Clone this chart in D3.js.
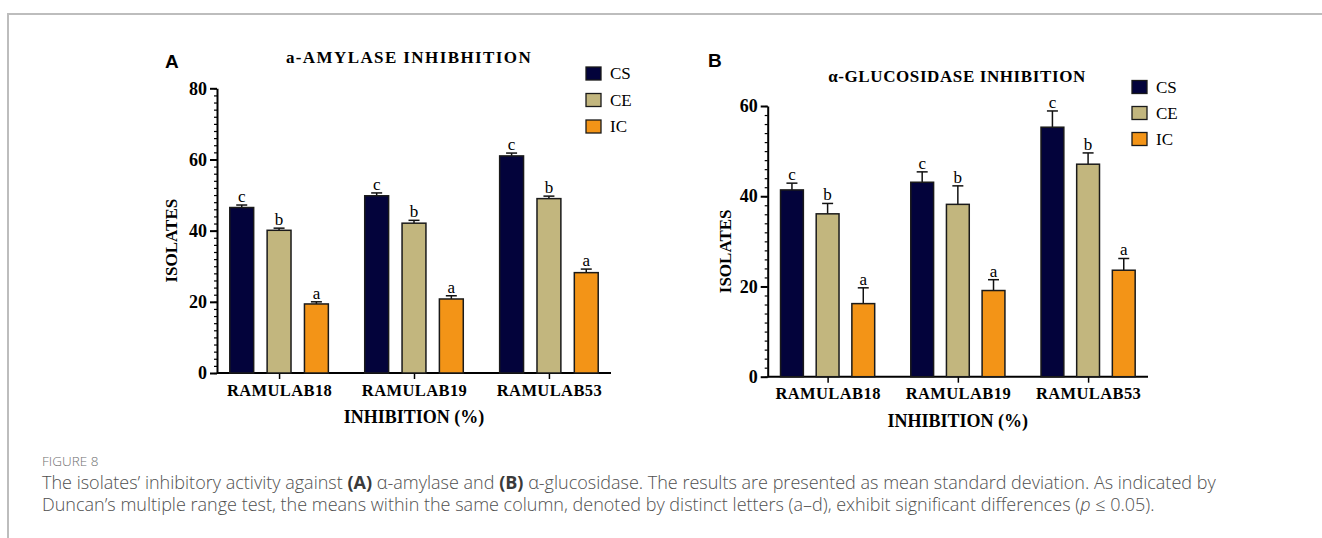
<!DOCTYPE html>
<html>
<head>
<meta charset="utf-8">
<script src="https://cdn.jsdelivr.net/npm/d3@7"></script>
<style>
  body { margin: 0; background: #fff; }
  svg { display: block; }
</style>
</head>
<body>
<svg id="fig" width="1322" height="538"></svg>
<script>
// ---- data ----
const isolates = ["RAMULAB18", "RAMULAB19", "RAMULAB53"];
const treatments = ["CS", "CE", "IC"];
const treatmentColors = ["#03033b", "#c2b67e", "#f39417"];
const sigLetters = ["c", "b", "a"];

// per isolate: [CS, CE, IC]
const amylaseMean = [[46.5, 40.1, 19.4], [49.8, 42.1, 20.8], [61.0, 49.0, 28.2]];
const amylaseSD = [[0.7, 0.6, 0.6], [0.8, 0.8, 0.9], [0.8, 0.7, 1.0]];
const amylaseTicks = [0, 20, 40, 60, 80];

const glucosidaseMean = [[41.4, 36.1, 16.2], [43.1, 38.2, 19.1], [55.3, 47.1, 23.6]];
const glucosidaseSD = [[1.5, 2.3, 3.5], [2.3, 4.1, 2.4], [3.6, 2.5, 2.6]];
const glucosidaseTicks = [0, 20, 40, 60];

const serif = "'Liberation Serif', 'Times New Roman', serif";
const svg = d3.select("#fig");

// figure frame (top + left rule)
svg.append("path")
  .attr("d", "M8,538V14H1322")
  .attr("fill", "none")
  .attr("stroke", "#bdbdbd")
  .attr("stroke-width", 2);

function drawPanel(p) {
  const g = svg.append("g");

  const y = d3.scaleLinear().domain([0, p.max]).range([p.bottom, p.top]);
  const x = d3.scalePoint().domain(isolates).range([p.left, p.right]).padding(0.46);
  const inner = d3.scaleBand().domain(treatments)
    .range([-p.half, p.half]).paddingInner(p.gap).paddingOuter(p.gap / 2);

  // minor ticks every 2 units
  g.append("g")
    .attr("transform", `translate(${p.left},0)`)
    .call(d3.axisLeft(y).tickValues(d3.range(0, p.max + 1, 2)).tickSize(3).tickFormat(""))
    .call(a => a.select(".domain").remove())
    .selectAll("line").attr("stroke-width", 1.2);

  // y axis
  const ya = g.append("g")
    .attr("transform", `translate(${p.left},0)`)
    .call(d3.axisLeft(y).tickValues(p.ticks).tickSize(7).tickSizeOuter(0).tickPadding(3));
  ya.select(".domain").attr("stroke-width", 2);
  ya.selectAll("line").attr("stroke-width", 2);
  ya.selectAll("text")
    .attr("font-family", serif).attr("font-weight", "bold").attr("font-size", 18);

  // x axis
  const xa = g.append("g")
    .attr("transform", `translate(0,${p.bottom})`)
    .call(d3.axisBottom(x).tickSize(6).tickSizeOuter(0).tickPadding(5));
  xa.select(".domain").attr("stroke-width", 2).attr("d", `M${p.left},0H${p.right}`);
  xa.selectAll("line").attr("stroke-width", 1.5);
  xa.selectAll("text")
    .attr("font-family", serif).attr("font-weight", "bold").attr("font-size", 16.5)
    .attr("letter-spacing", 0.4);

  // bars, error bars and letters
  const rows = [];
  isolates.forEach((iso, i) => treatments.forEach((t, j) => {
    rows.push({ iso, t, j, mean: p.means[i][j], sd: p.sds[i][j] });
  }));
  const cx = d => x(d.iso) + inner(d.t) + inner.bandwidth() / 2;

  g.selectAll("line.err").data(rows).join("line")
    .attr("x1", cx).attr("x2", cx)
    .attr("y1", d => y(d.mean)).attr("y2", d => y(d.mean + d.sd))
    .attr("stroke", "#111").attr("stroke-width", 1.5);
  g.selectAll("line.cap").data(rows).join("line")
    .attr("x1", d => cx(d) - 5.5).attr("x2", d => cx(d) + 5.5)
    .attr("y1", d => y(d.mean + d.sd)).attr("y2", d => y(d.mean + d.sd))
    .attr("stroke", "#111").attr("stroke-width", 1.5);

  g.selectAll("rect.bar").data(rows).join("rect")
    .attr("x", d => x(d.iso) + inner(d.t))
    .attr("y", d => y(d.mean))
    .attr("width", inner.bandwidth())
    .attr("height", d => y(0) - y(d.mean))
    .attr("fill", d => treatmentColors[d.j])
    .attr("stroke", "#1a1a1a").attr("stroke-width", 1.5);

  g.selectAll("text.sig").data(rows).join("text")
    .attr("x", cx)
    .attr("y", d => y(d.mean + d.sd) - 3)
    .attr("text-anchor", "middle")
    .attr("font-family", serif).attr("font-size", 17)
    .text(d => sigLetters[d.j]);

  // titles
  g.append("text")
    .attr("x", p.titleX).attr("y", p.titleY)
    .attr("text-anchor", "middle")
    .attr("font-family", serif).attr("font-weight", "bold").attr("font-size", 17)
    .attr("letter-spacing", p.titleSpacing)
    .text(p.title);
  g.append("text")
    .attr("x", (x(isolates[0]) + x(isolates[2])) / 2).attr("y", p.bottom + 50)
    .attr("text-anchor", "middle")
    .attr("font-family", serif).attr("font-weight", "bold").attr("font-size", 18)
    .text("INHIBITION (%)");
  g.append("text")
    .attr("transform", `translate(${p.ylabelX},${(p.top + p.bottom) / 2 + 10}) rotate(-90)`)
    .attr("text-anchor", "middle")
    .attr("font-family", serif).attr("font-weight", "bold").attr("font-size", 17)
    .text("ISOLATES");
  g.append("text")
    .attr("x", p.tagX).attr("y", p.tagY)
    .attr("font-family", "'Liberation Sans', Arial, sans-serif")
    .attr("font-weight", "bold").attr("font-size", 19)
    .text(p.tag);

  // legend
  const lg = g.append("g").attr("transform", `translate(${p.legX},${p.legY})`);
  treatments.forEach((t, j) => {
    lg.append("rect")
      .attr("x", 0).attr("y", j * p.legStep)
      .attr("width", 15).attr("height", 13)
      .attr("fill", treatmentColors[j])
      .attr("stroke", "#1a1a1a").attr("stroke-width", 1.3);
    lg.append("text")
      .attr("x", 24).attr("y", j * p.legStep + 12)
      .attr("font-family", serif).attr("font-size", 17)
      .text(t);
  });
}

drawPanel({
  left: 217, right: 611, top: 88.3, bottom: 373, max: 80, ticks: amylaseTicks,
  half: 56, gap: 0.36, means: amylaseMean, sds: amylaseSD,
  title: "a-AMYLASE INHIBHITION", titleX: 409, titleY: 63, titleSpacing: 1.4,
  tag: "A", tagX: 165, tagY: 68,
  ylabelX: 177, legX: 586, legY: 67, legStep: 26.5
});
drawPanel({
  left: 767.7, right: 1148, top: 106, bottom: 376.7, max: 60, ticks: glucosidaseTicks,
  half: 53.5, gap: 0.36, means: glucosidaseMean, sds: glucosidaseSD,
  title: "α-GLUCOSIDASE INHIBITION", titleX: 957, titleY: 81.5, titleSpacing: 0.6,
  tag: "B", tagX: 708, tagY: 67,
  ylabelX: 731, legX: 1132, legY: 80.5, legStep: 26
});

// caption
const cap = svg.append("g")
  .attr("font-family", "'Open Sans', 'Noto Sans', sans-serif")
  .attr("font-weight", 300)
  .attr("fill", "#505050");
cap.append("text").attr("x", 42).attr("y", 466)
  .attr("font-size", 13.5).attr("fill", "#707070").text("FIGURE 8");
const l1 = cap.append("text").attr("x", 42).attr("y", 489).attr("font-size", 16);
l1.append("tspan").text("The isolates’ inhibitory activity against ");
l1.append("tspan").attr("font-weight", "bold").attr("fill", "#3a3a3a").text("(A)");
l1.append("tspan").text(" α-amylase and ");
l1.append("tspan").attr("font-weight", "bold").attr("fill", "#3a3a3a").text("(B)");
l1.append("tspan").text(" α-glucosidase. The results are presented as mean standard deviation. As indicated by");
const l2 = cap.append("text").attr("x", 42).attr("y", 511).attr("font-size", 16);
l2.append("tspan").text("Duncan’s multiple range test, the means within the same column, denoted by distinct letters (a–d), exhibit significant differences (");
l2.append("tspan").attr("font-style", "italic").text("p");
l2.append("tspan").text(" ≤ 0.05).");

// fit caption line widths to the original column
const target1 = 1175;
const w1 = l1.node().getComputedTextLength();
const fs = 16 * target1 / w1;
l1.attr("font-size", fs);
l2.attr("font-size", fs);
</script>
</body>
</html>
